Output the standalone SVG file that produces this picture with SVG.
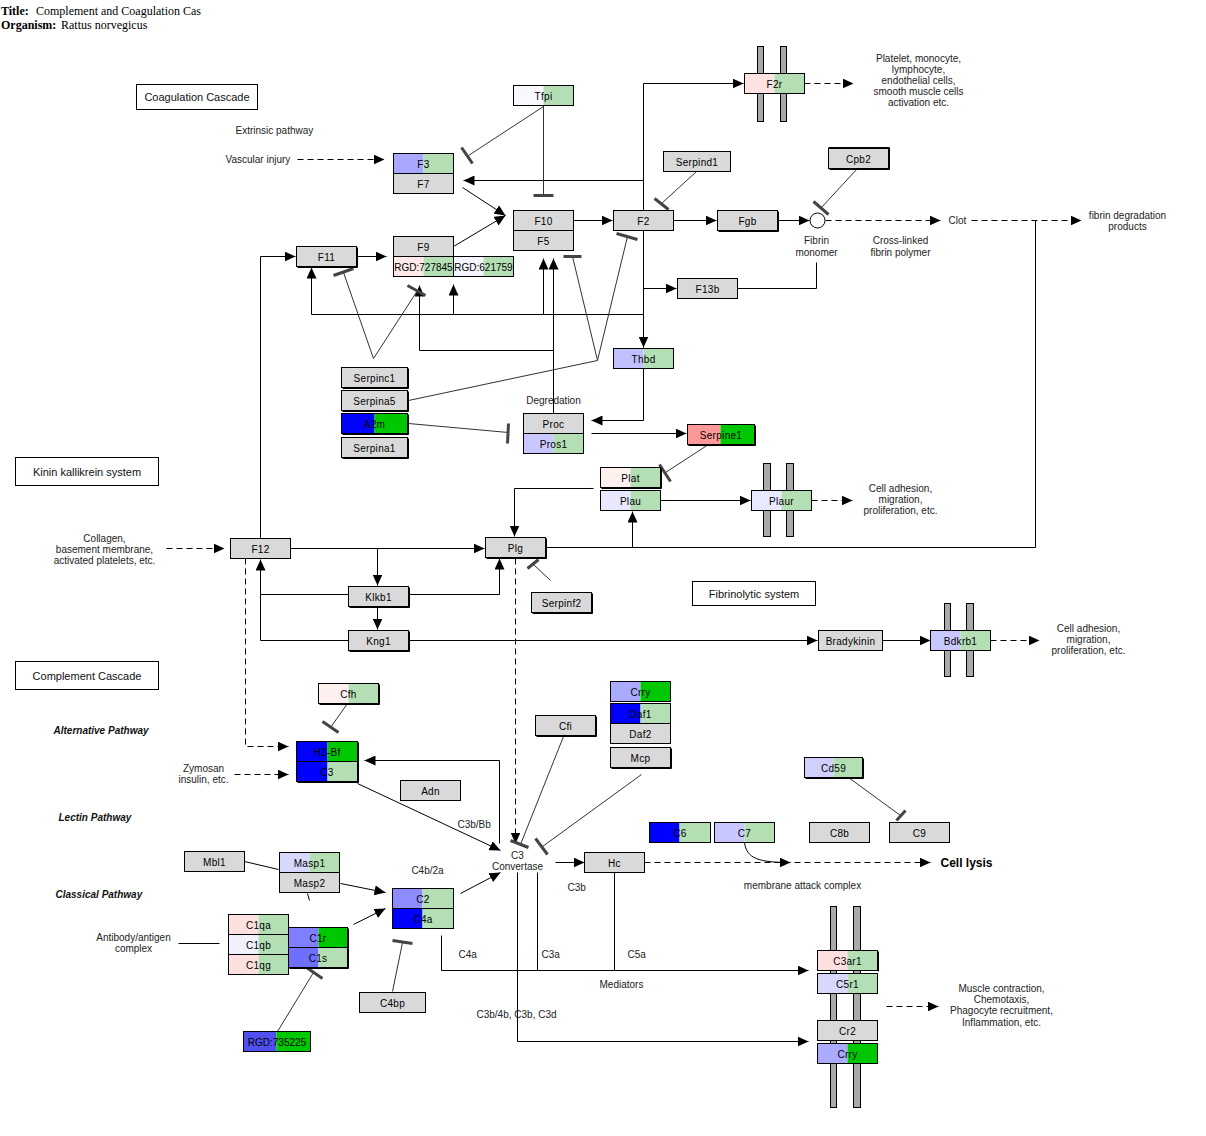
<svg xmlns="http://www.w3.org/2000/svg" width="1206" height="1136" viewBox="0 0 1206 1136">
<style>
  .bg{fill:#fff}
  .g{fill:#d9d9d9}
  .o{fill:none;stroke:#000;stroke-width:1}
  .sh{fill:none;stroke:#000;stroke-width:1}
  .l{font-family:"Liberation Sans",Arial,sans-serif;font-size:10px;text-anchor:middle;fill:#000;letter-spacing:0.3px}
  .a{font-family:"Liberation Sans",Arial,sans-serif;font-size:10px;text-anchor:middle;fill:#222}
  .as{font-family:"Liberation Sans",Arial,sans-serif;font-size:10px;fill:#222}
  .pw{font-family:"Liberation Sans",Arial,sans-serif;font-size:10px;font-weight:bold;font-style:italic;fill:#111}
  .bx{fill:#fff;stroke:#000;stroke-width:1}
  .bt{font-family:"Liberation Sans",Arial,sans-serif;font-size:11px;text-anchor:middle;fill:#111}
  .c{fill:none;stroke:#000;stroke-width:1}
  .ar{marker-end:url(#ah)}
  .d{stroke-dasharray:6 4}
  .t{fill:none;stroke:#333;stroke-width:1}
  .bar{fill:none;stroke:#444;stroke-width:3}
  .mem{fill:#a9a9a9;stroke:#000;stroke-width:1}
  .tt{font-family:"Liberation Serif","Times New Roman",serif;font-size:12px;fill:#000}
</style>
<defs>
  <marker id="ah" viewBox="0 0 11 10" refX="11" refY="5" markerWidth="11" markerHeight="10" markerUnits="userSpaceOnUse" orient="auto">
    <path d="M0,0L11,5L0,10z" fill="#000"/>
  </marker>
</defs>
<rect class="bg" x="0" y="0" width="1206" height="1136"/>

<!-- header -->
<g id="header">
  <text class="tt" x="1" y="15" font-weight="bold">Title:</text>
  <text class="tt" x="36" y="15">Complement and Coagulation Cas</text>
  <text class="tt" x="1" y="29" font-weight="bold">Organism:</text>
  <text class="tt" x="61" y="29">Rattus norvegicus</text>
</g>

<g transform="translate(0.5 0.5)">

<!-- membrane bars -->
<g id="membranes">
  <rect class="mem" x="757" y="46" width="6" height="75"/>
  <rect class="mem" x="780" y="46" width="6" height="75"/>
  <rect class="mem" x="763" y="463" width="7" height="73"/>
  <rect class="mem" x="786" y="463" width="7" height="73"/>
  <rect class="mem" x="944" y="603" width="6" height="73"/>
  <rect class="mem" x="966" y="603" width="7" height="73"/>
  <rect class="mem" x="830" y="906" width="6" height="201"/>
  <rect class="mem" x="853" y="906" width="7" height="201"/>
</g>

<!-- connectors -->
<g id="connectors">
  <!-- coagulation -->
  <path class="c" d="M643,347V83"/>
  <path class="c ar" d="M643,83H743"/>
  <path class="c ar" d="M643,300V347"/>
  <path class="c ar" d="M643,180H463"/>
  <path class="c ar" d="M643,288H676"/>
  <path class="c" d="M643,314H311"/>
  <path class="c ar" d="M311,314V267"/>
  <path class="c ar" d="M453,314V284"/>
  <path class="c ar" d="M543,314V258"/>
  <path class="c ar" d="M573,220H612"/>
  <path class="c ar" d="M673,220H716"/>
  <path class="c ar" d="M777,220H809"/>
  <path class="c ar" d="M462,187L505,215"/>
  <path class="c ar" d="M453,246L505,215"/>
  <path class="c ar" d="M356,256H386"/>
  <path class="c ar" d="M260,538V256H295"/>
  <path class="c" d="M737,288H816V262"/>
  <path class="c ar" d="M553,413V258"/>
  <path class="c ar" d="M553,350H419V285"/>
  <path class="c ar" d="M643,368V420H591"/>
  <path class="c ar" d="M591,433H686"/>
  <!-- kinin / fibrinolysis -->
  <path class="c ar" d="M290,548H484"/>
  <path class="c ar" d="M377,548V585"/>
  <path class="c ar" d="M377,606V629"/>
  <path class="c" d="M348,594H260"/>
  <path class="c ar" d="M348,640H260V559"/>
  <path class="c ar" d="M408,594H499V558"/>
  <path class="c ar" d="M408,640H817"/>
  <path class="c ar" d="M882,640H930"/>
  <path class="c" d="M545,547H1035V220"/>
  <path class="c ar" d="M632,547V511"/>
  <path class="c ar" d="M593,488H514V536"/>
  <path class="c ar" d="M660,500H750"/>
  <!-- dashed -->
  <path class="c d ar" d="M297,159H384"/>
  <path class="c d ar" d="M804,83H853"/>
  <path class="c d ar" d="M825,220H940"/>
  <path class="c d ar" d="M971,220H1081"/>
  <path class="c d ar" d="M811,500H852"/>
  <path class="c d ar" d="M990,640H1039"/>
  <path class="c d ar" d="M166,548H224"/>
  <path class="c d ar" d="M245,558V746H288"/>
  <path class="c d ar" d="M515,558V843"/>
  <path class="c d ar" d="M234,774H288"/>
  <path class="c d ar" d="M644,862H930"/>
  <path class="c d ar" d="M886,1006H938"/>
  <!-- complement -->
  <path class="c ar" d="M499,843V760H364"/>
  <path class="c ar" d="M357,783L500,850"/>
  <path class="c" d="M244,861L278,869"/>
  <path class="c" d="M307,893L309,900"/>
  <path class="c ar" d="M340,883L385,892"/>
  <path class="c ar" d="M353,924L385,908"/>
  <path class="c ar" d="M460,893L500,872"/>
  <path class="c" d="M178,943H219"/>
  <path class="c ar" d="M555,862H584"/>
  <path class="c ar" d="M744,842C746,858 758,862 790,862"/>
  <path class="c ar" d="M517,872V1041H808"/>
  <path class="c" d="M537,872V970"/>
  <path class="c" d="M614,872V970"/>
  <path class="c ar" d="M441,935V970H808"/>
  <!-- inhibitions -->
  <path class="t" d="M543,106L468,155"/>
  <path class="bar" d="M461,147L472,163"/>
  <path class="t" d="M543,105V195"/>
  <path class="bar" d="M533,195H553"/>
  <path class="t" d="M696,171L661,203"/>
  <path class="bar" d="M654,198L668,209"/>
  <path class="t" d="M857,168L820,208"/>
  <path class="bar" d="M813,201L828,214"/>
  <path class="t" d="M343,272L373,358L417,290"/>
  <path class="bar" d="M333,275L353,268"/>
  <path class="bar" d="M407,285L425,295"/>
  <path class="t" d="M408,400L597,360L572,256M597,360L627,236"/>
  <path class="bar" d="M563,256H581"/>
  <path class="bar" d="M616,233L637,239"/>
  <path class="t" d="M408,423L508,432"/>
  <path class="bar" d="M508,423L507,443"/>
  <path class="t" d="M708,444L665,472"/>
  <path class="bar" d="M659,464L670,481"/>
  <path class="t" d="M550,580L532,563"/>
  <path class="bar" d="M527,568L538,559"/>
  <path class="t" d="M347,703L330,727"/>
  <path class="bar" d="M322,721L338,732"/>
  <path class="t" d="M563,736L520,844"/>
  <path class="bar" d="M510,840L528,847"/>
  <path class="t" d="M641,774L542,846"/>
  <path class="bar" d="M535,838L547,854"/>
  <path class="t" d="M848,777L900,815"/>
  <path class="bar" d="M896,820L905,810"/>
  <path class="t" d="M277,1031L313,972"/>
  <path class="bar" d="M306,967L322,978"/>
  <path class="t" d="M392,991L402,942"/>
  <path class="bar" d="M392,940L412,943"/>
  <circle cx="817" cy="220" r="7.5" fill="#fff" stroke="#000"/>
</g>

<!-- section boxes -->
<g id="sections">
  <rect class="bx" x="136" y="84" width="121" height="25"/>
  <text class="bt" x="196.5" y="100">Coagulation Cascade</text>
  <rect class="bx" x="15" y="457" width="143" height="28"/>
  <text class="bt" x="86.5" y="475">Kinin kallikrein system</text>
  <rect class="bx" x="692" y="581" width="123" height="24"/>
  <text class="bt" x="753.5" y="597">Fibrinolytic system</text>
  <rect class="bx" x="15" y="661" width="143" height="28"/>
  <text class="bt" x="86.5" y="679">Complement Cascade</text>
</g>

<!-- gene nodes: grey -->
<g id="n-F7"><rect class="g" x="393" y="173" width="60" height="20"/><rect class="o" x="393" y="173" width="60" height="20"/><text class="l" x="423" y="187">F7</text></g>
<g id="n-F10"><rect class="g" x="513" y="210" width="60" height="20"/><rect class="o" x="513" y="210" width="60" height="20"/><text class="l" x="543" y="224">F10</text></g>
<g id="n-F5"><rect class="g" x="513" y="230" width="60" height="20"/><rect class="o" x="513" y="230" width="60" height="20"/><text class="l" x="543" y="244">F5</text></g>
<g id="n-F2"><rect class="g" x="613" y="210" width="60" height="20"/><rect class="o" x="613" y="210" width="60" height="20"/><text class="l" x="643" y="224">F2</text></g>
<g id="n-F9"><rect class="g" x="393" y="236" width="60" height="20"/><rect class="o" x="393" y="236" width="60" height="20"/><text class="l" x="423" y="250">F9</text></g>
<g id="n-F11"><rect class="g" x="296" y="246" width="60" height="20"/><rect class="o" x="296" y="246" width="60" height="20"/><path class="sh" d="M357,247V267H297"/><text class="l" x="326" y="260">F11</text></g>
<g id="n-Serpind1"><rect class="g" x="663" y="151" width="67" height="20"/><rect class="o" x="663" y="151" width="67" height="20"/><text class="l" x="696.5" y="165">Serpind1</text></g>
<g id="n-Cpb2"><rect class="g" x="828" y="148" width="60" height="20"/><rect class="o" x="828" y="148" width="60" height="20"/><path class="sh" d="M828,147H889V169H829"/><text class="l" x="858" y="162">Cpb2</text></g>
<g id="n-Fgb"><rect class="g" x="717" y="210" width="60" height="20"/><rect class="o" x="717" y="210" width="60" height="20"/><path class="sh" d="M778,211V231H718"/><text class="l" x="747" y="224">Fgb</text></g>
<g id="n-F13b"><rect class="g" x="677" y="278" width="60" height="20"/><rect class="o" x="677" y="278" width="60" height="20"/><text class="l" x="707" y="292">F13b</text></g>
<g id="n-Serpinc1"><rect class="g" x="341" y="367" width="66" height="20"/><rect class="o" x="341" y="367" width="66" height="20"/><path class="sh" d="M408,368V388H342"/><text class="l" x="374" y="381">Serpinc1</text></g>
<g id="n-Serpina5"><rect class="g" x="341" y="390" width="66" height="20"/><rect class="o" x="341" y="390" width="66" height="20"/><path class="sh" d="M408,391V411H342"/><text class="l" x="374" y="404">Serpina5</text></g>
<g id="n-Serpina1"><rect class="g" x="341" y="437" width="66" height="20"/><rect class="o" x="341" y="437" width="66" height="20"/><path class="sh" d="M408,438V458H342"/><text class="l" x="374" y="451">Serpina1</text></g>
<g id="n-Proc"><rect class="g" x="523" y="413" width="60" height="20"/><rect class="o" x="523" y="413" width="60" height="20"/><text class="l" x="553" y="427">Proc</text></g>
<g id="n-Plg"><rect class="g" x="485" y="537" width="60" height="20"/><rect class="o" x="485" y="537" width="60" height="20"/><path class="sh" d="M546,538V558H486"/><text class="l" x="515" y="551">Plg</text></g>
<g id="n-F12"><rect class="g" x="230" y="538" width="60" height="20"/><rect class="o" x="230" y="538" width="60" height="20"/><text class="l" x="260" y="552">F12</text></g>
<g id="n-Klkb1"><rect class="g" x="348" y="586" width="60" height="20"/><rect class="o" x="348" y="586" width="60" height="20"/><path class="sh" d="M409,587V607H349"/><text class="l" x="378" y="600">Klkb1</text></g>
<g id="n-Kng1"><rect class="g" x="348" y="630" width="60" height="20"/><rect class="o" x="348" y="630" width="60" height="20"/><path class="sh" d="M409,631V651H349"/><text class="l" x="378" y="644">Kng1</text></g>
<g id="n-Serpinf2"><rect class="g" x="531" y="592" width="60" height="20"/><rect class="o" x="531" y="592" width="60" height="20"/><path class="sh" d="M592,593V613H532"/><text class="l" x="561" y="606">Serpinf2</text></g>
<g id="n-Bradykinin"><rect class="g" x="818" y="630" width="64" height="20"/><rect class="o" x="818" y="630" width="64" height="20"/><text class="l" x="850" y="644">Bradykinin</text></g>
<g id="n-Adn"><rect class="g" x="400" y="780" width="60" height="20"/><rect class="o" x="400" y="780" width="60" height="20"/><text class="l" x="430" y="794">Adn</text></g>
<g id="n-Mbl1"><rect class="g" x="184" y="851" width="60" height="20"/><rect class="o" x="184" y="851" width="60" height="20"/><text class="l" x="214" y="865">Mbl1</text></g>
<g id="n-Masp2"><rect class="g" x="279" y="872" width="60" height="20"/><rect class="o" x="279" y="872" width="60" height="20"/><text class="l" x="309" y="886">Masp2</text></g>
<g id="n-C4bp"><rect class="g" x="359" y="992" width="66" height="20"/><rect class="o" x="359" y="992" width="66" height="20"/><text class="l" x="392" y="1006">C4bp</text></g>
<g id="n-Cfi"><rect class="g" x="535" y="715" width="60" height="20"/><rect class="o" x="535" y="715" width="60" height="20"/><path class="sh" d="M596,716V736H536"/><text class="l" x="565" y="729">Cfi</text></g>
<g id="n-Daf2"><rect class="g" x="610" y="723" width="60" height="20"/><rect class="o" x="610" y="723" width="60" height="20"/><text class="l" x="640" y="737">Daf2</text></g>
<g id="n-Mcp"><rect class="g" x="610" y="747" width="60" height="20"/><rect class="o" x="610" y="747" width="60" height="20"/><path class="sh" d="M671,748V768H611"/><text class="l" x="640" y="761">Mcp</text></g>
<g id="n-Hc"><rect class="g" x="584" y="852" width="60" height="20"/><rect class="o" x="584" y="852" width="60" height="20"/><text class="l" x="614" y="866">Hc</text></g>
<g id="n-C8b"><rect class="g" x="809" y="822" width="60" height="20"/><rect class="o" x="809" y="822" width="60" height="20"/><text class="l" x="839" y="836">C8b</text></g>
<g id="n-C9"><rect class="g" x="889" y="822" width="60" height="20"/><rect class="o" x="889" y="822" width="60" height="20"/><text class="l" x="919" y="836">C9</text></g>
<g id="n-Cr2"><rect class="g" x="817" y="1020" width="60" height="20"/><rect class="o" x="817" y="1020" width="60" height="20"/><text class="l" x="847" y="1034">Cr2</text></g>

<!-- gene nodes: two-tone -->
<g id="n-Tfpi"><rect x="513" y="85" width="30" height="20" fill="#f8f8ff"/><rect x="543" y="85" width="30" height="20" fill="#b4dfb4"/><rect class="o" x="513" y="85" width="60" height="20"/><text class="l" x="543" y="99">Tfpi</text></g>
<g id="n-F3"><rect x="393" y="153" width="30" height="20" fill="#a8a8ff"/><rect x="423" y="153" width="30" height="20" fill="#b4dfb4"/><rect class="o" x="393" y="153" width="60" height="20"/><text class="l" x="423" y="167">F3</text></g>
<g id="n-RGD727845"><rect x="393" y="256" width="30" height="20" fill="#ffe8e8"/><rect x="423" y="256" width="30" height="20" fill="#b4dfb4"/><rect class="o" x="393" y="256" width="60" height="20"/><text class="l" x="423" y="270" style="letter-spacing:0">RGD:727845</text></g>
<g id="n-RGD621759"><rect x="453" y="256" width="30" height="20" fill="#f4f4ff"/><rect x="483" y="256" width="30" height="20" fill="#b4dfb4"/><rect class="o" x="453" y="256" width="60" height="20"/><text class="l" x="483" y="270" style="letter-spacing:0">RGD:621759</text></g>
<g id="n-F2r"><rect x="744" y="73" width="30" height="20" fill="#ffe2e2"/><rect x="774" y="73" width="30" height="20" fill="#b4dfb4"/><rect class="o" x="744" y="73" width="60" height="20"/><text class="l" x="774" y="87">F2r</text></g>
<g id="n-Thbd"><rect x="613" y="348" width="30" height="20" fill="#c0c0ff"/><rect x="643" y="348" width="30" height="20" fill="#b4dfb4"/><rect class="o" x="613" y="348" width="60" height="20"/><text class="l" x="643" y="362">Thbd</text></g>
<g id="n-Pros1"><rect x="523" y="433" width="30" height="20" fill="#c8c8ff"/><rect x="553" y="433" width="30" height="20" fill="#b4dfb4"/><rect class="o" x="523" y="433" width="60" height="20"/><text class="l" x="553" y="447">Pros1</text></g>
<g id="n-A2m"><rect x="341" y="413" width="33" height="20" fill="#0000ff"/><rect x="374" y="413" width="33" height="20" fill="#00c800"/><rect class="o" x="341" y="413" width="66" height="20"/><path class="sh" d="M408,414V434H342"/><text class="l" x="374" y="427">A2m</text></g>
<g id="n-Serpine1"><rect x="687" y="424" width="33" height="20" fill="#ff9999"/><rect x="720" y="424" width="34" height="20" fill="#00c800"/><rect class="o" x="687" y="424" width="67" height="20"/><path class="sh" d="M755,425V445H688"/><text class="l" x="720.5" y="438">Serpine1</text></g>
<g id="n-Plat"><rect x="600" y="467" width="30" height="20" fill="#fff0f0"/><rect x="630" y="467" width="30" height="20" fill="#b4dfb4"/><rect class="o" x="600" y="467" width="60" height="20"/><path class="sh" d="M661,468V488H601"/><text class="l" x="630" y="481">Plat</text></g>
<g id="n-Plau"><rect x="600" y="490" width="30" height="20" fill="#e8e8ff"/><rect x="630" y="490" width="30" height="20" fill="#b4dfb4"/><rect class="o" x="600" y="490" width="60" height="20"/><text class="l" x="630" y="504">Plau</text></g>
<g id="n-Plaur"><rect x="751" y="490" width="30" height="20" fill="#e8e8ff"/><rect x="781" y="490" width="30" height="20" fill="#b4dfb4"/><rect class="o" x="751" y="490" width="60" height="20"/><text class="l" x="781" y="504">Plaur</text></g>
<g id="n-Bdkrb1"><rect x="930" y="630" width="30" height="20" fill="#c8c8ff"/><rect x="960" y="630" width="30" height="20" fill="#b4dfb4"/><rect class="o" x="930" y="630" width="60" height="20"/><text class="l" x="960" y="644">Bdkrb1</text></g>
<g id="n-Cfh"><rect x="318" y="683" width="30" height="20" fill="#fff0f0"/><rect x="348" y="683" width="30" height="20" fill="#b4dfb4"/><rect class="o" x="318" y="683" width="60" height="20"/><path class="sh" d="M379,684V704H319"/><text class="l" x="348" y="697">Cfh</text></g>
<g id="n-H2-Bf"><rect x="296" y="741" width="31" height="20" fill="#0000ff"/><rect x="327" y="741" width="30" height="20" fill="#00c800"/><rect class="o" x="296" y="741" width="61" height="20"/><path class="sh" d="M358,742V762"/><text class="l" x="326.5" y="755">H2-Bf</text></g>
<g id="n-C3"><rect x="296" y="761" width="31" height="20" fill="#0000ff"/><rect x="327" y="761" width="30" height="20" fill="#b4dfb4"/><rect class="o" x="296" y="761" width="61" height="20"/><path class="sh" d="M358,762V782H297"/><text class="l" x="326.5" y="775">C3</text></g>
<g id="n-Masp1"><rect x="279" y="852" width="30" height="20" fill="#d8d8ff"/><rect x="309" y="852" width="30" height="20" fill="#b4dfb4"/><rect class="o" x="279" y="852" width="60" height="20"/><text class="l" x="309" y="866">Masp1</text></g>
<g id="n-C2"><rect x="392" y="888" width="30" height="20" fill="#8c8cff"/><rect x="422" y="888" width="31" height="20" fill="#b4dfb4"/><rect class="o" x="392" y="888" width="61" height="20"/><text class="l" x="422.5" y="902">C2</text></g>
<g id="n-C4a"><rect x="392" y="908" width="30" height="20" fill="#0000ff"/><rect x="422" y="908" width="31" height="20" fill="#b4dfb4"/><rect class="o" x="392" y="908" width="61" height="20"/><text class="l" x="422.5" y="922">C4a</text></g>
<g id="n-C1qa"><rect x="228" y="914" width="30" height="20" fill="#ffe0e0"/><rect x="258" y="914" width="30" height="20" fill="#b4dfb4"/><rect class="o" x="228" y="914" width="60" height="20"/><text class="l" x="258" y="928">C1qa</text></g>
<g id="n-C1qb"><rect x="228" y="934" width="30" height="20" fill="#f0f0ff"/><rect x="258" y="934" width="30" height="20" fill="#b4dfb4"/><rect class="o" x="228" y="934" width="60" height="20"/><text class="l" x="258" y="948">C1qb</text></g>
<g id="n-C1qg"><rect x="228" y="954" width="30" height="20" fill="#ffe0e0"/><rect x="258" y="954" width="30" height="20" fill="#b4dfb4"/><rect class="o" x="228" y="954" width="60" height="20"/><text class="l" x="258" y="968">C1qg</text></g>
<g id="n-C1r"><rect x="288" y="927" width="30" height="20" fill="#8080ff"/><rect x="318" y="927" width="29" height="20" fill="#00c800"/><rect class="o" x="288" y="927" width="59" height="20"/><path class="sh" d="M348,928V948"/><text class="l" x="317.5" y="941">C1r</text></g>
<g id="n-C1s"><rect x="288" y="947" width="30" height="20" fill="#6e6eff"/><rect x="318" y="947" width="29" height="20" fill="#b4dfb4"/><rect class="o" x="288" y="947" width="59" height="20"/><path class="sh" d="M348,948V968H289"/><text class="l" x="317.5" y="961">C1s</text></g>
<g id="n-RGD735225"><rect x="243" y="1031" width="33" height="20" fill="#5050f0"/><rect x="276" y="1031" width="34" height="20" fill="#00c800"/><rect class="o" x="243" y="1031" width="67" height="20"/><text class="l" x="276.5" y="1045" style="letter-spacing:0">RGD:735225</text></g>
<g id="n-Crry"><rect x="610" y="681" width="30" height="20" fill="#aaaaff"/><rect x="640" y="681" width="30" height="20" fill="#00c800"/><rect class="o" x="610" y="681" width="60" height="20"/><text class="l" x="640" y="695">Crry</text></g>
<g id="n-Daf1"><rect x="610" y="703" width="30" height="20" fill="#0000ff"/><rect x="640" y="703" width="30" height="20" fill="#b4dfb4"/><rect class="o" x="610" y="703" width="60" height="20"/><text class="l" x="640" y="717">Daf1</text></g>
<g id="n-C6"><rect x="649" y="822" width="30" height="20" fill="#0000ff"/><rect x="679" y="822" width="31" height="20" fill="#b4dfb4"/><rect class="o" x="649" y="822" width="61" height="20"/><text class="l" x="679.5" y="836">C6</text></g>
<g id="n-C7"><rect x="714" y="822" width="30" height="20" fill="#c8c8ff"/><rect x="744" y="822" width="30" height="20" fill="#b4dfb4"/><rect class="o" x="714" y="822" width="60" height="20"/><text class="l" x="744" y="836">C7</text></g>
<g id="n-Cd59"><rect x="804" y="757" width="29" height="20" fill="#d0d0ff"/><rect x="833" y="757" width="29" height="20" fill="#b4dfb4"/><rect class="o" x="804" y="757" width="58" height="20"/><path class="sh" d="M863,758V778H805"/><text class="l" x="833" y="771">Cd59</text></g>
<g id="n-C3ar1"><rect x="817" y="950" width="30" height="20" fill="#ffe0e0"/><rect x="847" y="950" width="30" height="20" fill="#b4dfb4"/><rect class="o" x="817" y="950" width="60" height="20"/><path class="sh" d="M878,951V971"/><text class="l" x="847" y="964">C3ar1</text></g>
<g id="n-C5r1"><rect x="817" y="973" width="30" height="20" fill="#d8d8ff"/><rect x="847" y="973" width="30" height="20" fill="#b4dfb4"/><rect class="o" x="817" y="973" width="60" height="20"/><text class="l" x="847" y="987">C5r1</text></g>
<g id="n-Crry-2"><rect x="817" y="1043" width="30" height="20" fill="#aaaaff"/><rect x="847" y="1043" width="30" height="20" fill="#00c800"/><rect class="o" x="817" y="1043" width="60" height="20"/><text class="l" x="847" y="1057">Crry</text></g>

<!-- annotations -->
<g id="labels">
  <text class="as" x="235" y="133">Extrinsic pathway</text>
  <text class="as" x="225" y="162">Vascular injury</text>
  <text class="a" x="918" y="61">Platelet, monocyte,</text>
  <text class="a" x="918" y="72">lymphocyte,</text>
  <text class="a" x="918" y="83">endothelial cells,</text>
  <text class="a" x="918" y="94">smooth muscle cells</text>
  <text class="a" x="918" y="105">activation etc.</text>
  <text class="as" x="948" y="223">Clot</text>
  <text class="a" x="1127" y="218">fibrin degradation</text>
  <text class="a" x="1127" y="229">products</text>
  <text class="a" x="816" y="243">Fibrin</text>
  <text class="a" x="816" y="255">monomer</text>
  <text class="a" x="900" y="243">Cross-linked</text>
  <text class="a" x="900" y="255">fibrin polymer</text>
  <text class="a" x="553" y="403">Degredation</text>
  <text class="a" x="900" y="491">Cell adhesion,</text>
  <text class="a" x="900" y="502">migration,</text>
  <text class="a" x="900" y="513">proliferation, etc.</text>
  <text class="a" x="1088" y="631">Cell adhesion,</text>
  <text class="a" x="1088" y="642">migration,</text>
  <text class="a" x="1088" y="653">proliferation, etc.</text>
  <text class="a" x="104" y="541">Collagen,</text>
  <text class="a" x="104" y="552">basement membrane,</text>
  <text class="a" x="104" y="563">activated platelets, etc.</text>
  <text class="pw" x="53" y="733">Alternative Pathway</text>
  <text class="pw" x="58" y="820">Lectin Pathway</text>
  <text class="pw" x="55" y="897">Classical Pathway</text>
  <text class="a" x="203" y="771">Zymosan</text>
  <text class="a" x="203" y="782">insulin, etc.</text>
  <text class="as" x="457" y="827">C3b/Bb</text>
  <text class="a" x="427" y="873">C4b/2a</text>
  <text class="a" x="133" y="940">Antibody/antigen</text>
  <text class="a" x="133" y="951">complex</text>
  <text class="a" x="517" y="858">C3</text>
  <text class="a" x="517" y="869">Convertase</text>
  <text class="as" x="567" y="890">C3b</text>
  <text class="a" x="802" y="888">membrane attack complex</text>
  <text x="940" y="866" style="font-family:'Liberation Sans',Arial,sans-serif;font-size:12px;font-weight:bold;fill:#000">Cell lysis</text>
  <text class="as" x="458" y="957">C4a</text>
  <text class="as" x="541" y="957">C3a</text>
  <text class="as" x="627" y="957">C5a</text>
  <text class="as" x="599" y="987">Mediators</text>
  <text class="as" x="476" y="1017">C3b/4b, C3b, C3d</text>
  <text class="a" x="1001" y="991">Muscle contraction,</text>
  <text class="a" x="1001" y="1002">Chemotaxis,</text>
  <text class="a" x="1001" y="1013">Phagocyte recruitment,</text>
  <text class="a" x="1001" y="1025">Inflammation, etc.</text>
</g>

</g>
</svg>
